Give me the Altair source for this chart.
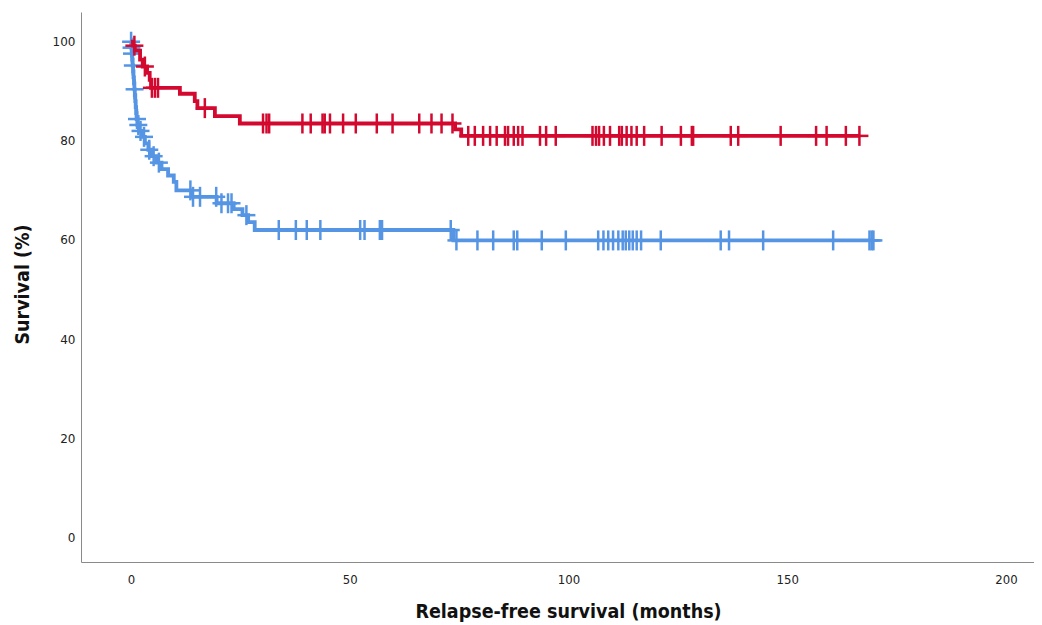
import altair as alt
import numpy as np
import pandas as pd

# ---- data ----
red_step_t = [0, 0.5, 0.9, 2.1, 2.7, 3.7, 4.3, 4.6, 11.2, 14.6, 15.2, 19.2, 24.9, 74.1, 75.5]
red_step_s = [100, 99.2, 98.2, 96.4, 95.0, 93.7, 92.3, 90.7, 89.5, 88.0, 86.6, 85.0, 83.5, 82.3, 81.0]
red_cens_t = [0.8, 3.2, 4.8, 5.5, 6.2, 16.9, 30.2, 31.0, 31.6, 39.2, 41.1, 43.8, 44.3, 45.5,
              48.5, 51.4, 56.2, 59.8, 65.9, 68.7, 71.0, 73.5, 77.1, 78.6, 80.5, 82.1, 83.6,
              85.5, 86.2, 87.5, 88.5, 89.5, 93.5, 94.9, 97.1, 105.5, 106.3, 107.0, 108.1,
              109.5, 111.6, 112.2, 113.3, 114.4, 115.6, 117.3, 121.3, 125.7, 128.2, 128.5,
              137.1, 138.8, 148.5, 156.6, 159.0, 163.4, 166.5]

blue_step_t = [0, 0.1, 0.2, 0.3, 0.4, 0.5, 0.6, 0.7, 0.8, 0.9, 1.0, 1.1, 1.2, 1.3, 1.5, 1.9,
               2.5, 3.2, 4.0, 4.8, 5.8, 7.0, 8.5, 9.8, 10.4, 13.9, 19.6, 23.5, 25.5, 26.8,
               28.3, 73.7]
blue_step_s = [100, 98.8, 97.6, 96.4, 95.2, 94.0, 92.8, 91.6, 90.4, 89.2, 88.0, 86.8, 85.6,
               84.4, 83.2, 82.0, 80.8, 79.5, 78.2, 76.9, 75.6, 74.3, 73.0, 71.7, 70.0, 68.7,
               67.4, 66.2, 65.0, 63.6, 62.0, 59.9]
blue_cens_t = [0.05, 0.15, 0.25, 0.45, 0.85, 1.4, 1.7, 2.2, 3.0, 4.2, 5.2, 6.4, 13.6, 14.2,
               15.8, 19.5, 20.7, 22.2, 23.0, 26.4, 33.8, 37.7, 40.2, 43.3, 52.4, 53.4, 56.9,
               57.4, 73.1, 74.4, 79.2, 82.8, 87.5, 88.3, 93.9, 99.4, 106.8, 108.0, 109.1,
               110.2, 111.4, 112.4, 113.1, 113.9, 114.7, 115.6, 116.6, 121.1, 134.8, 136.7,
               144.5, 160.5, 168.8, 169.3, 169.7]

x_ticks = [0, 50, 100, 150, 200]
y_ticks = [0, 20, 40, 60, 80, 100]

RED = "#d3092f"
BLUE = "#5595e4"


def frames(step_t, step_s, cens_t):
    st = np.array(step_t)
    ss = np.array(step_s)
    line = pd.DataFrame({"t": list(st) + [max(cens_t)], "s": list(ss) + [ss[-1]]})
    idx = np.searchsorted(st, np.array(cens_t), side="right") - 1
    cens = pd.DataFrame({"t": cens_t, "s": ss[idx]})
    return line, cens


xscale = alt.Scale(domain=[-11.4, 206.4], nice=False, zero=False)
yscale = alt.Scale(domain=[-5, 106], nice=False, zero=False)

xaxis = alt.Axis(values=x_ticks, title="Relapse-free survival (months)", grid=False, ticks=False,
                 domainColor="#8a8a8a", domainWidth=1, labelFontSize=13, labelColor="#222222",
                 labelFont="DejaVu Sans Condensed", titleFont="DejaVu Sans Condensed",
                 titleFontSize=19.5, titleFontWeight="bold", titleColor="#111111",
                 labelPadding=11, titlePadding=16, titleX=487)
yaxis = alt.Axis(values=y_ticks, title="Survival (%)", grid=False, ticks=False,
                 domainColor="#8a8a8a", domainWidth=1, labelFontSize=12, labelColor="#222222",
                 labelFont="DejaVu Sans", titleFont="DejaVu Sans Condensed",
                 titleFontSize=19.5, titleFontWeight="bold", titleColor="#111111",
                 labelPadding=6, titlePadding=20, titleY=272)


def layers(step_t, step_s, cens_t, color):
    line_df, cens_df = frames(step_t, step_s, cens_t)
    x = alt.X("t:Q", scale=xscale, axis=xaxis)
    y = alt.Y("s:Q", scale=yscale, axis=yaxis)
    line = alt.Chart(line_df).mark_line(interpolate="step-after", strokeWidth=3.8,
                                        color=color).encode(x=x, y=y)
    vt = alt.Chart(cens_df).mark_tick(orient="vertical", size=20, thickness=2.5,
                                      color=color, opacity=1).encode(x=x, y=y)
    ht = alt.Chart(cens_df).mark_tick(orient="horizontal", size=18, thickness=2.5,
                                      color=color, opacity=1).encode(x=x, y=y)
    return [line, vt, ht]


chart = alt.layer(
    *layers(blue_step_t, blue_step_s, blue_cens_t, BLUE),
    *layers(red_step_t, red_step_s, red_cens_t, RED),
).properties(
    width=953, height=550,
    autosize=alt.AutoSizeParams(type="none"),
    padding={"left": 73, "top": 4, "right": 0, "bottom": 62},
).configure_view(strokeWidth=0)

chart.save("out.html", embed_options={"renderer": "svg", "actions": False})
